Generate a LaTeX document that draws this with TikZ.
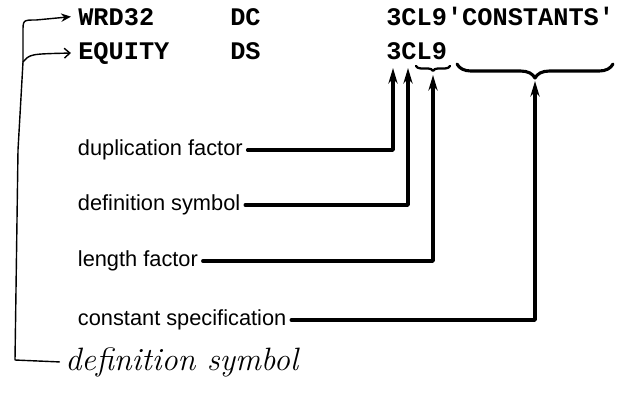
\documentclass[tikz,border=0pt]{standalone}
\usepackage{fontspec}
\setmonofont{Liberation Mono}
\newfontfamily\labelfont{Liberation Sans}
\usetikzlibrary{arrows.meta,decorations.pathreplacing}

\begin{document}
\begin{tikzpicture}[x=0.025cm, y=-0.025cm, line cap=round, line join=round,
  >={Stealth[length=11pt,width=6.5pt]},
  code/.style={font=\ttfamily\bfseries\fontsize{18}{18}\selectfont, inner sep=0pt, anchor=base west},
  lbl/.style={font=\labelfont\fontsize{15.5}{16}\selectfont, inner sep=0pt, outer xsep=3.5pt, anchor=west},
  conn/.style={line width=2.4pt, ->},
  hand/.style={line width=1pt},
  brc/.style={decorate, decoration={brace, mirror, amplitude=#1}, line width=2.2pt}]

% cadre de l'image
\useasboundingbox (0,0) rectangle (623,397);

% les deux instructions
\node[code] (wrd) at (78,25) {WRD32};
\node[code] (dc) at (230,25) {DC};
\node[code] (cst) at (386,25) {3CL9'CONSTANTS'};
\node[code] (equ) at (78,59) {EQUITY};
\node[code] (ds) at (230,59) {DS};
\node[code] (opd) at (386,59) {3CL9};

% accolades sous l'operande
\draw[brc=3.5pt, line width=1.6pt] (416,66) -- (450,66);
\draw[brc=10pt] (457,64) -- (613,64);

% pointes des fleches
\coordinate (tipA) at (393,68);
\coordinate (tipB) at (408,68);
\coordinate (tipC) at (433,75);
\coordinate (tipD) at (535,81);

% legendes
\node[lbl] (dup) at (73,150) {duplication factor};
\node[lbl] (dsym) at (73,205) {definition symbol};
\node[lbl] (lenf) at (73,261) {length factor};
\node[lbl] (cspec) at (73,320) {constant specification};

\draw[conn] (dup.east) -| (tipA);
\draw[conn] (dsym.east) -| (tipB);
\draw[conn] (lenf.east) -| (tipC);
\draw[conn] (cspec.east) -| (tipD);

% note manuscrite
\node[font=\fontsize{23}{23}\selectfont\itshape, inner sep=0pt, anchor=base west] (note) at (65,370) {definition symbol};

\draw[hand, -{Stealth[length=7pt,width=6pt]}] ([xshift=-4pt]note.west) -- (15,360) -- (18,150)
  -- (23,62) coordinate (fork) -- (23,32) .. controls (23,20) .. (36,20) -- ([xshift=-5pt]wrd.west);
\draw[hand, -{Straight Barb[length=4pt,width=7pt]}] (fork) .. controls (30,54) .. ([xshift=-5pt]equ.west);

\end{tikzpicture}
\end{document}
